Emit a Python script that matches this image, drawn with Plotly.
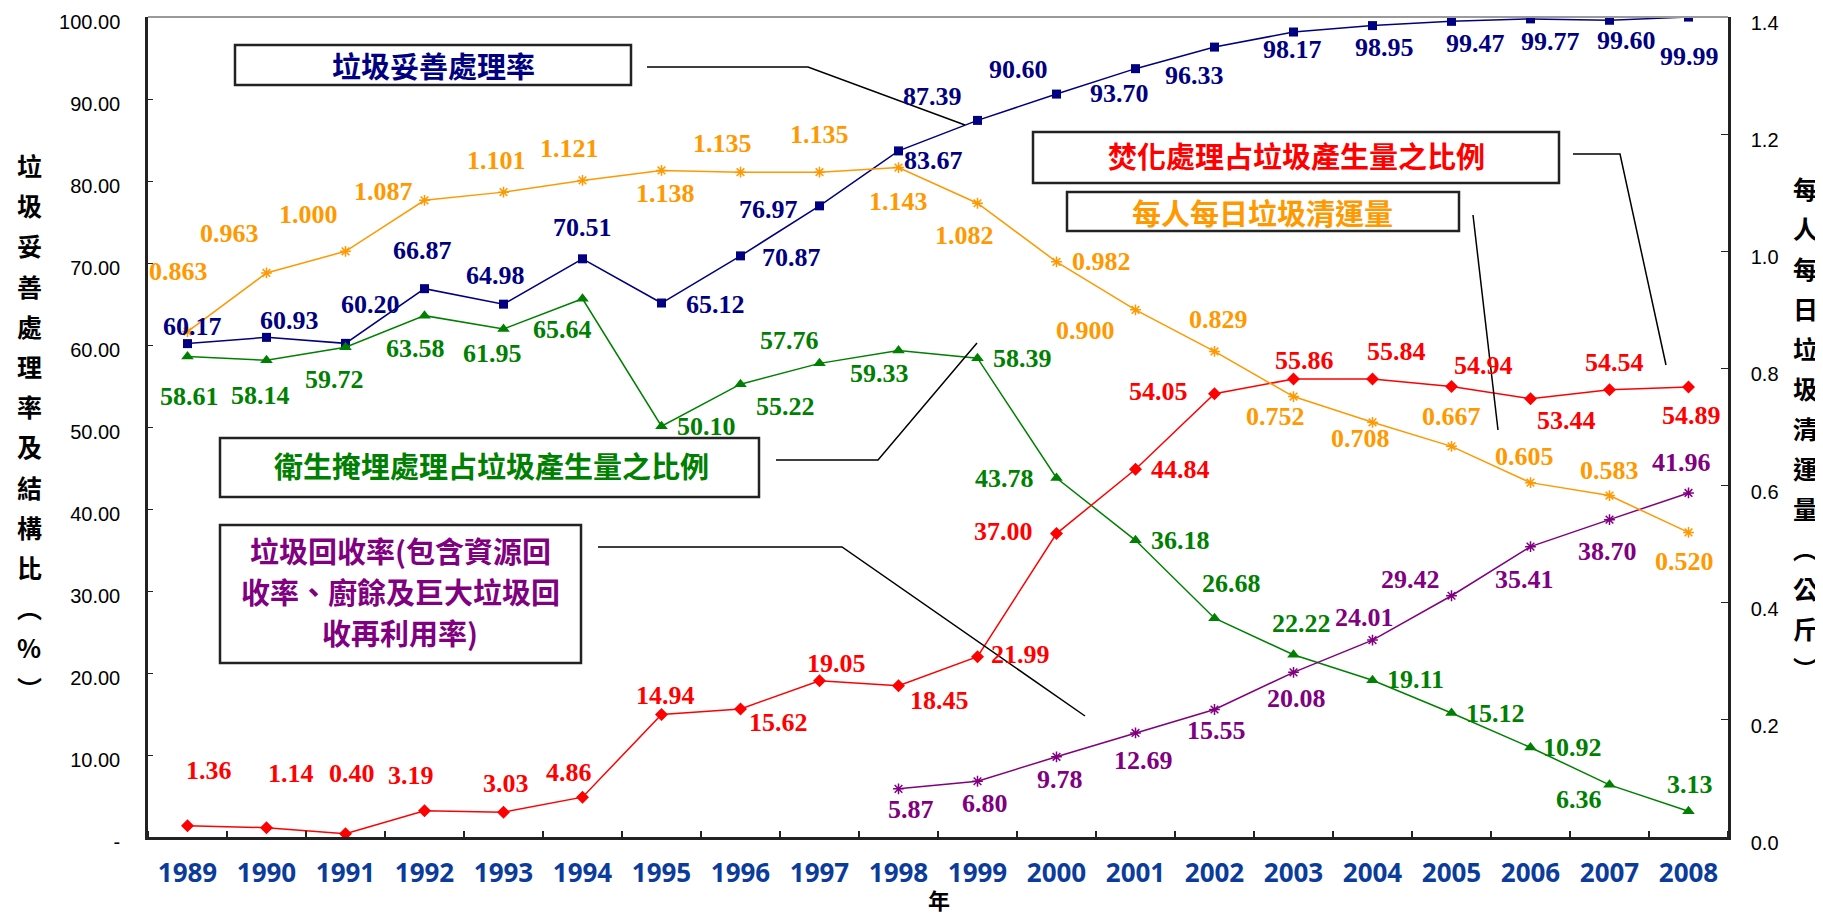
import plotly.graph_objects as go

# ---------------- data ----------------
years = list(range(1989, 2009))
year_labels = [str(y) for y in years]

proper_rate = [60.17, 60.93, 60.20, 66.87, 64.98, 70.51, 65.12, 70.87, 76.97, 83.67,
               87.39, 90.60, 93.70, 96.33, 98.17, 98.95, 99.47, 99.77, 99.60, 99.99]
landfill_ratio = [58.61, 58.14, 59.72, 63.58, 61.95, 65.64, 50.10, 55.22, 57.76, 59.33,
                  58.39, 43.78, 36.18, 26.68, 22.22, 19.11, 15.12, 10.92, 6.36, 3.13]
incin_ratio = [1.36, 1.14, 0.40, 3.19, 3.03, 4.86, 14.94, 15.62, 19.05, 18.45,
               21.99, 37.00, 44.84, 54.05, 55.86, 55.84, 54.94, 53.44, 54.54, 54.89]
per_capita = [0.863, 0.963, 1.000, 1.087, 1.101, 1.121, 1.138, 1.135, 1.135, 1.143,
              1.082, 0.982, 0.900, 0.829, 0.752, 0.708, 0.667, 0.605, 0.583, 0.520]
recycle_years = list(range(1998, 2009))
recycle_rate = [5.87, 6.80, 9.78, 12.69, 15.55, 20.08, 24.01, 29.42, 35.41, 38.70, 41.96]

left_ticks = [0, 10, 20, 30, 40, 50, 60, 70, 80, 90, 100]
left_ticktext = ["-", "10.00", "20.00", "30.00", "40.00", "50.00", "60.00", "70.00",
                 "80.00", "90.00", "100.00"]
right_ticks = [0, 0.2, 0.4, 0.6, 0.8, 1.0, 1.2, 1.4]

name_proper = "垃圾妥善處理率"
name_incin = "焚化處理占垃圾產生量之比例"
name_percap = "每人每日垃圾清運量"
name_landfill = "衛生掩埋處理占垃圾產生量之比例"
name_recycle_lines = ["垃圾回收率(包含資源回", "收率、廚餘及巨大垃圾回", "收再利用率)"]
left_title = ["垃", "圾", "妥", "善", "處", "理", "率", "及", "結", "構", "比", "︵", "%", "︶"]
right_title = ["每", "人", "每", "日", "垃", "圾", "清", "運", "量", "︵", "公", "斤", "︶"]
x_title = "年"

# ---------------- styling ----------------
NAVY, GREEN, RED, ORANGE, PURPLE = "#000080", "#008000", "#FF0000", "#FF9900", "#800080"
PAGE_OFF = 8                      # default body margin of the html page
W, H = 1823 - PAGE_OFF, 915 - PAGE_OFF
# plot area in page pixels
PL, PR, PT, PB = 148, 1728, 17, 837
L, R, T, B = PL - PAGE_OFF, PR - PAGE_OFF, PT - PAGE_OFF, PB - PAGE_OFF


def px(x):
    return (x - PL) / (PR - PL)


def py(y):
    return (PB - y) / (PB - PT)


# label pixel offsets (dx, dy) relative to marker; dy positive = down
navy_off = [(5, -17), (23, -17), (25, -39), (-2, -38), (-8, -29), (0, -31), (54, 1), (51, 2),
            (-51, 4), (35, 10), (-45, -24), (-38, -25), (-16, 25), (-20, 28), (-1, 17),
            (12, 22), (24, 22), (20, 23), (17, 20), (1, 39)]
green_off = [(2, 40), (-6, 35), (-11, 32), (-9, 33), (-11, 24), (-20, 31), (45, 0), (45, 22),
             (-30, -23), (-19, 23), (45, 0), (-52, 0), (45, 0), (17, -35), (8, -31),
             (43, -1), (44, 0), (42, 0), (-31, 15), (1, -27)]
red_off = [(21, -55), (24, -54), (6, -60), (-14, -35), (2, -29), (-14, -25), (4, -19),
           (38, 14), (17, -17), (41, 15), (43, -2), (-53, -2), (45, 0), (-56, -2), (11, -18),
           (24, -28), (32, -21), (36, 22), (5, -27), (3, 29)]
orange_off = [(-9, -60), (-37, -39), (-37, -37), (-41, -9), (-7, -32), (-13, -32), (4, 23),
              (-18, -29), (0, -38), (0, 34), (-13, 32), (45, 0), (-50, 21), (4, -32),
              (-18, 20), (-12, 16), (0, -30), (-6, -26), (0, -25), (-4, 29)]
purple_off = [(12, 21), (7, 22), (3, 23), (8, 28), (2, 21), (3, 26), (-8, -23), (-41, -16),
              (-6, 33), (-2, 32), (-7, -30)]

fig = go.Figure()


def series(x, y, color, symbol, size, axis="y", open_marker=False):
    marker = dict(symbol=symbol, size=size, color=color)
    if open_marker:
        marker["line"] = dict(color=color, width=1.5)
    fig.add_trace(go.Scatter(x=x, y=y, mode="lines+markers", yaxis=axis,
                             line=dict(color=color, width=1.5), marker=marker,
                             showlegend=False, hoverinfo="x+y"))


series(years, proper_rate, NAVY, "square", 9)
series(years, landfill_ratio, GREEN, "triangle-up", 11)
series(years, incin_ratio, RED, "diamond", 10)
series(recycle_years, recycle_rate, PURPLE, "asterisk-open", 9, open_marker=True)
series(years, per_capita, ORANGE, "asterisk-open", 9, axis="y2", open_marker=True)

annotations = []
LABEL_FONT = "Liberation Serif"


def labels(x, y, offs, color, fmt, yref="y"):
    for xi, yi, (dx, dy) in zip(x, y, offs):
        annotations.append(dict(x=xi, y=yi, xref="x", yref=yref, text=fmt.format(yi),
                                showarrow=False, xshift=dx, yshift=-dy,
                                xanchor="center", yanchor="middle",
                                font=dict(family=LABEL_FONT, size=26, color=color,
                                          weight="bold")))


labels(years, proper_rate, navy_off, NAVY, "{:.2f}")
labels(years, landfill_ratio, green_off, GREEN, "{:.2f}")
labels(years, incin_ratio, red_off, RED, "{:.2f}")
labels(recycle_years, recycle_rate, purple_off, PURPLE, "{:.2f}")
labels(years, per_capita, orange_off, ORANGE, "{:.3f}", yref="y2")

# callout boxes
shapes = []
CJK = "Noto Sans CJK TC"


def box(x0, y0, x1, y1):
    shapes.append(dict(type="rect", xref="paper", yref="paper", x0=px(x0), x1=px(x1),
                       y0=py(y1), y1=py(y0), line=dict(color="#222222", width=2.5),
                       fillcolor="white", layer="below"))


def leader(points):
    path = "M " + " L ".join(f"{px(a):.5f},{py(b):.5f}" for a, b in points)
    shapes.append(dict(type="path", xref="paper", yref="paper", path=path,
                       line=dict(color="black", width=1.5)))


def text_at(x, y, text, color, size, bold=True):
    annotations.append(dict(x=px(x), y=py(y), xref="paper", yref="paper", text=text,
                            showarrow=False, xanchor="center", yanchor="middle",
                            font=dict(family=CJK, size=size, color=color,
                                      weight="bold" if bold else "normal")))


box(235, 45, 631, 85)
text_at(433, 65, name_proper, NAVY, 29)
leader([(647, 67), (808, 67), (965, 125)])

box(1033, 132, 1559, 183)
text_at(1296, 155, name_incin, RED, 29)
leader([(1573, 154), (1620, 154), (1666, 365)])

box(1067, 192, 1459, 231)
text_at(1262, 212, name_percap, ORANGE, 29)
leader([(1473, 215), (1498, 430)])

box(220, 438, 759, 497)
text_at(491, 465, name_landfill, GREEN, 29)
leader([(776, 460), (878, 460), (977, 343)])

box(220, 525, 581, 663)
for i, line in enumerate(name_recycle_lines):
    text_at(400, 550 + 41 * i, line, PURPLE, 29)
leader([(598, 547), (842, 547), (1085, 716)])

# top border (gray)
shapes.append(dict(type="line", xref="paper", yref="paper", x0=0, x1=1, y0=1, y1=1,
                   line=dict(color="#9a9a9a", width=2)))

# vertical axis titles, one character per line
for i, ch in enumerate(left_title):
    text_at(29, 165 + 40.2 * i, ch, "black", 25)
for i, ch in enumerate(right_title):
    text_at(1805, 188 + 40 * i, ch, "black", 25)
text_at(939, 899, x_title, "black", 22)

TICK_FONT = dict(family="Liberation Sans Narrow, Liberation Sans", size=20, color="black")

fig.update_layout(
    width=W, height=H, autosize=False,
    margin=dict(l=L, r=W - R, t=T, b=H - B, pad=0),
    paper_bgcolor="white", plot_bgcolor="white",
    showlegend=False,
    xaxis=dict(range=[1988.5, 2008.5], tickvals=years, ticktext=year_labels,
               tickfont=dict(family="Open Sans", size=26, color="#0b3c9c", weight="bold"),
               ticks="", showline=True, linecolor="#222222", linewidth=2.5,
               showgrid=False, zeroline=False, ticklabelstandoff=11, automargin=False,
               ticklabeloverflow="allow",
               minor=dict(tick0=1988.5, dtick=1, ticks="inside", ticklen=6,
                          tickcolor="#222222", tickwidth=1.5, showgrid=False)),
    yaxis=dict(range=[0, 100], tickvals=left_ticks, ticktext=left_ticktext,
               tickfont=TICK_FONT, ticks="inside", ticklen=5, tickcolor="#222222",
               showline=True, linecolor="#222222", linewidth=2.5, showgrid=False,
               zeroline=False, ticklabelstandoff=21, ticklabelshift=5, automargin=False,
               ticklabeloverflow="allow"),
    yaxis2=dict(range=[0, 1.4], tickvals=right_ticks, tickformat=".1f",
                tickfont=TICK_FONT, ticks="inside", ticklen=7, tickcolor="#222222",
                showline=True, linecolor="#222222", linewidth=2.5, showgrid=False,
                zeroline=False, overlaying="y", side="right", ticklabelstandoff=16,
                ticklabelshift=6, automargin=False, ticklabeloverflow="allow"),
    shapes=shapes,
    annotations=annotations,
)

fig.write_html("out.html")
